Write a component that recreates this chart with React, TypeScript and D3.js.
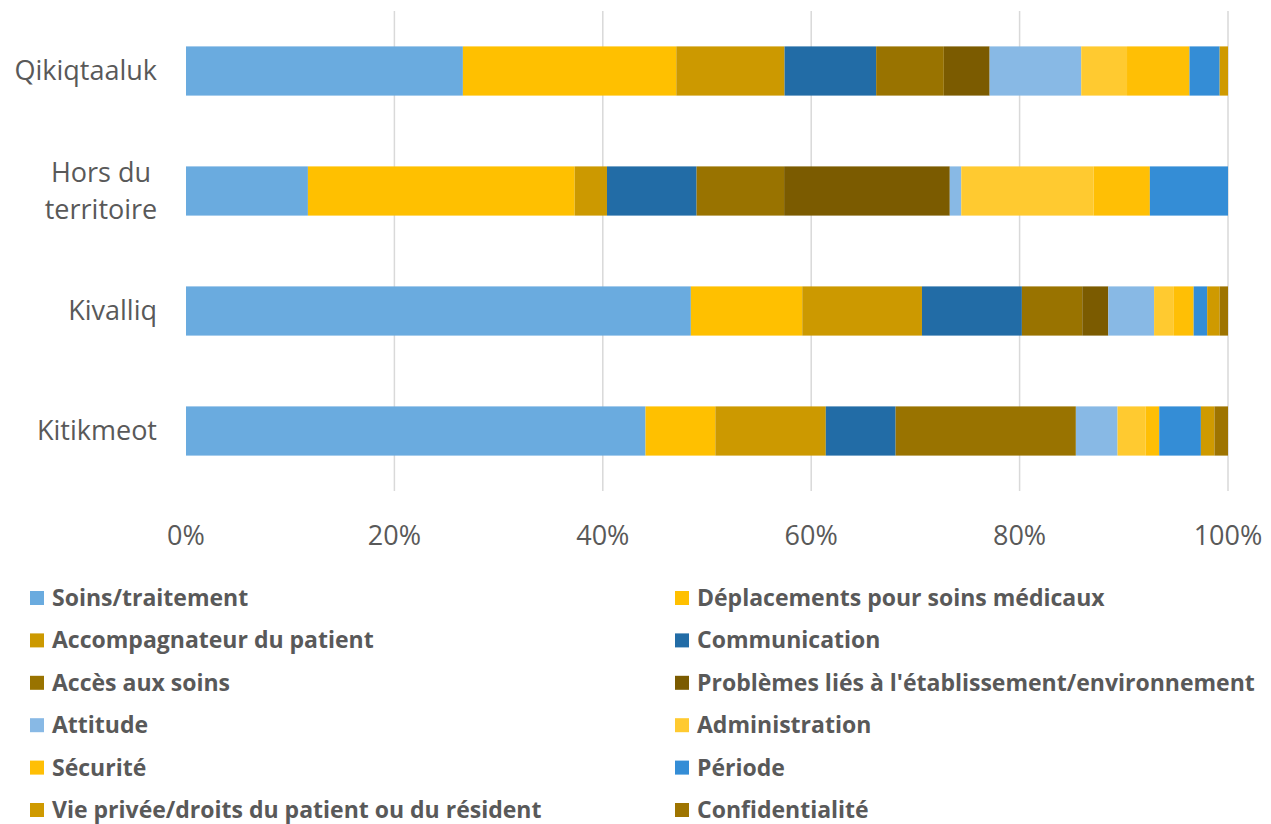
import React from "react";
import * as d3 from "d3";

const regions = ["Qikiqtaaluk", "Hors du territoire", "Kivalliq", "Kitikmeot"];
const regionLines: string[][] = [["Qikiqtaaluk"], ["Hors du", "territoire"], ["Kivalliq"], ["Kitikmeot"]];

const seriesNames = [
  "Soins/traitement",
  "Déplacements pour soins médicaux",
  "Accompagnateur du patient",
  "Communication",
  "Accès aux soins",
  "Problèmes liés à l'établissement/environnement",
  "Attitude",
  "Administration",
  "Sécurité",
  "Période",
  "Vie privée/droits du patient ou du résident",
  "Confidentialité",
];

const seriesColors = [
  "#6AABDF",
  "#FFC000",
  "#CC9900",
  "#226CA6",
  "#997300",
  "#7B5B00",
  "#88B9E5",
  "#FFCA30",
  "#FFBF05",
  "#348DD6",
  "#CF9A00",
  "#9E7400",
];

// values (%) per region, in series order
const qikiqtaaluk = [26.6, 20.5, 10.4, 8.8, 6.5, 4.4, 8.8, 4.4, 6.0, 2.9, 0.8, 0];
const horsDuTerritoire = [11.7, 25.6, 3.1, 8.6, 8.4, 15.9, 1.1, 12.7, 5.4, 7.5, 0, 0];
const kivalliq = [48.5, 10.7, 11.5, 9.6, 5.8, 2.5, 4.4, 1.9, 1.9, 1.3, 1.2, 0.8];
const kitikmeot = [44.1, 6.7, 10.6, 6.7, 17.3, 0, 4.0, 2.7, 1.3, 4.0, 1.3, 1.3];

const regionValues = [qikiqtaaluk, horsDuTerritoire, kivalliq, kitikmeot];
const xTicks = [0, 20, 40, 60, 80, 100];

const W = 1271;
const H = 824;
const FONT = "'Open Sans', 'Noto Sans', sans-serif";
const TEXT = "#595959";

export default function App() {
  const x = d3.scaleLinear().domain([0, 100]).range([186, 1228]);
  const y = d3.scaleBand<string>().domain(regions).range([11, 491]).paddingInner(0.59).paddingOuter(0.295);

  const rows = regions.map((r, ri) => {
    const vals = regionValues[ri];
    const total = d3.sum(vals);
    let acc = 0;
    return vals.map((v, si) => {
      const start = (acc / total) * 100;
      acc += v;
      const end = (acc / total) * 100;
      return { r, si, start, end };
    });
  });

  const legendRows = Math.ceil(seriesNames.length / 2);
  const legendY = d3.scalePoint<number>().domain(d3.range(legendRows)).range([598, 810]);

  return (
    <svg width={W} height={H} style={{ position: "absolute", left: 0, top: 0, background: "#fff" }}>
      {xTicks.filter((t) => t > 0).map((t) => (
        <line key={t} x1={x(t)} x2={x(t)} y1={11} y2={491} stroke="#D9D9D9" strokeWidth={1.5} />
      ))}
      {rows.map((segs, ri) =>
        segs
          .filter((s) => s.end - s.start > 0)
          .map((s) => (
            <rect
              key={ri + "-" + s.si}
              x={x(s.start)}
              y={y(s.r)!}
              width={x(s.end) - x(s.start)}
              height={y.bandwidth()}
              fill={seriesColors[s.si]}
            />
          ))
      )}
      {xTicks.map((t) => (
        <text key={t} x={x(t)} y={545} textAnchor="middle" fontFamily={FONT} fontSize={27} fill={TEXT}>
          {t + "%"}
        </text>
      ))}
      {regions.map((r, ri) => {
        const lines = regionLines[ri];
        const cy = y(r)! + y.bandwidth() / 2;
        const lh = 37;
        if (lines.length === 1) {
          return (
            <text key={r} x={157} y={cy + 9} textAnchor="end" fontFamily={FONT} fontSize={27} fill={TEXT}>
              {lines[0]}
            </text>
          );
        }
        return (
          <text key={r} x={101} textAnchor="middle" fontFamily={FONT} fontSize={27} fill={TEXT}>
            {lines.map((l, li) => (
              <tspan key={li} x={101} y={cy + 9 + (li - (lines.length - 1) / 2) * lh}>
                {l}
              </tspan>
            ))}
          </text>
        );
      })}
      {seriesNames.map((name, i) => {
        const col = i % 2;
        const row = Math.floor(i / 2);
        const lx = col === 0 ? 30 : 675;
        const ly = legendY(row)!;
        return (
          <g key={name}>
            <rect x={lx} y={ly - 7} width={14} height={14} fill={seriesColors[i]} />
            <text x={lx + 22} y={ly + 8} fontFamily={FONT} fontWeight="bold" fontSize={23} fill={TEXT}>
              {name}
            </text>
          </g>
        );
      })}
    </svg>
  );
}
